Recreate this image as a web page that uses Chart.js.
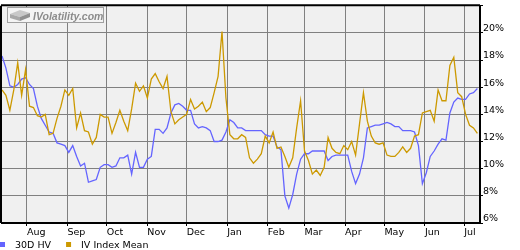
<!DOCTYPE html>
<html>
<head>
<meta charset="utf-8">
<script src="https://cdn.jsdelivr.net/npm/chart.js@4/dist/chart.umd.min.js"></script>
<style>
  html, body { margin: 0; padding: 0; background: #fff; }
  #chart { display: block; }
</style>
</head>
<body>
<canvas id="chart" width="520" height="250"></canvas>
<script>
// 시작일 기준 3일 간격 샘플 (Jul 13 ~ Jul 12)
const startDate = new Date(2010, 6, 13);
const stepDays = 3;

const monthLabels = ['Aug', 'Sep', 'Oct', 'Nov', 'Dec', 'Jan', 'Feb', 'Mar', 'Apr', 'May', 'Jun', 'Jul'];
const yTicks = [6, 8, 10, 12, 14, 16, 18, 20];
const seriesNames = ['30D HV', 'IV Index Mean'];

// 30일 역사적 변동성 (%)
const hv = [
  18.3, 17.4, 16.1, 16.0, 16.2, 16.6, 16.7, 16.2, 15.9, 14.6,
  13.7, 13.2, 12.7, 12.6, 11.9, 11.8, 11.7, 11.2, 11.7, 10.9,
  10.2, 10.4, 9.0, 9.1, 9.2, 10.1, 10.3, 10.3, 10.1, 10.2,
  10.8, 10.8, 11.0, 9.6, 11.2, 10.1, 10.1, 10.7, 10.9, 12.9,
  12.9, 12.6, 13.0, 14.1, 14.7, 14.8, 14.6, 14.3, 14.3, 13.3,
  13.0, 13.1, 13.0, 12.8, 12.0, 12.0, 12.1, 12.7, 13.6, 13.4,
  13.0, 13.0, 12.8, 12.8, 12.8, 12.8, 12.8, 12.5, 12.4, 12.4,
  11.6, 11.4, 8.0, 7.1, 8.1, 9.6, 10.7, 11.1, 11.1, 11.3,
  11.3, 11.3, 11.3, 10.6, 10.9, 11.0, 11.0, 11.0, 11.0, 9.8,
  8.9, 9.6, 10.8, 13.0, 13.1, 13.2, 13.2, 13.3, 13.4, 13.3,
  13.1, 13.1, 12.8, 12.8, 12.8, 12.7, 11.7, 8.9, 9.7, 10.9,
  11.3, 11.8, 12.2, 12.1, 14.1, 14.9, 15.2, 15.1, 15.1, 15.5,
  15.6, 15.9
];

// IV 인덱스 평균 (%)
const iv = [
  15.8, 15.4, 14.3, 15.8, 17.8, 15.4, 17.3, 14.6, 14.5, 13.9,
  13.8, 14.0, 12.5, 12.6, 13.7, 14.6, 15.8, 15.4, 15.9, 13.0,
  14.1, 12.8, 12.7, 11.8, 12.3, 14.0, 13.8, 13.8, 12.6, 13.4,
  14.3, 13.5, 12.8, 14.4, 16.3, 15.7, 16.1, 15.2, 16.6, 17.0,
  16.4, 15.9, 16.8, 14.2, 13.3, 13.6, 13.8, 14.0, 15.1, 14.4,
  14.6, 14.9, 14.2, 14.5, 15.6, 16.8, 20.1, 15.2, 12.5, 12.2,
  12.2, 12.5, 12.3, 10.8, 10.4, 10.7, 11.1, 12.4, 11.9, 12.7,
  11.5, 11.6, 10.9, 10.1, 10.8, 13.0, 15.0, 11.3, 10.6, 9.6,
  9.9, 9.5, 10.1, 12.3, 11.5, 11.2, 11.1, 11.7, 11.4, 12.0,
  11.0, 13.3, 15.6, 13.5, 12.4, 11.9, 11.8, 11.9, 11.0, 10.9,
  10.9, 11.2, 11.6, 11.2, 11.5, 12.4, 12.5, 14.1, 14.2, 14.3,
  13.5, 15.8, 15.0, 15.0, 17.6, 18.2, 15.6, 15.3, 14.0, 13.2,
  13.0, 12.6
];

const DAY = 86400000;
const totalDays = 365;
const monthStarts = monthLabels.map((m, k) => {
  const d = new Date(startDate.getFullYear(), startDate.getMonth() + 1 + k, 1);
  return Math.round((d - startDate) / DAY);
});

const toPoints = arr => arr.map((v, i) => ({ x: i * stepDays, y: v }));

// 배경, 테두리, 워터마크, 범례
const framePlugin = {
  id: 'frame',
  beforeDraw(chart) {
    const { ctx, chartArea: a } = chart;
    ctx.save();
    ctx.fillStyle = '#f0f0f0';
    ctx.fillRect(a.left, a.top, a.right - a.left, a.bottom - a.top);
    ctx.restore();
  },
  beforeDatasetsDraw(chart) {
    const { ctx } = chart;
    ctx.save();
    // watermark box
    ctx.fillStyle = '#f4f4f4';
    ctx.fillRect(7, 7, 97, 16);
    ctx.strokeStyle = '#a0a0a0';
    ctx.lineWidth = 1;
    ctx.strokeRect(7.5, 7.5, 96, 15);
    // cube logo
    ctx.fillStyle = '#c8c8c8';
    ctx.beginPath();
    ctx.moveTo(10, 14); ctx.lineTo(20, 10); ctx.lineTo(30, 13); ctx.lineTo(20, 17); ctx.closePath();
    ctx.fill();
    ctx.fillStyle = '#a8a8a8';
    ctx.beginPath();
    ctx.moveTo(10, 14); ctx.lineTo(20, 17); ctx.lineTo(20, 21); ctx.lineTo(10, 18); ctx.closePath();
    ctx.fill();
    ctx.fillStyle = '#909090';
    ctx.beginPath();
    ctx.moveTo(20, 17); ctx.lineTo(30, 13); ctx.lineTo(30, 17); ctx.lineTo(20, 21); ctx.closePath();
    ctx.fill();
    ctx.fillStyle = '#8c8c8c';
    ctx.font = 'italic bold 10.5px "Liberation Sans"';
    ctx.textBaseline = 'alphabetic';
    ctx.fillText('IVolatility.com', 33, 19.5);
    ctx.restore();
  },
  afterDraw(chart) {
    const { ctx, chartArea: a } = chart;
    ctx.save();
    ctx.strokeStyle = '#000';
    ctx.lineWidth = 2;
    ctx.beginPath();
    ctx.moveTo(a.left - 1, a.bottom);
    ctx.lineTo(a.left - 1, a.top);
    ctx.moveTo(a.left - 1, a.top - 0.5);
    ctx.lineTo(a.right, a.top - 0.5);
    ctx.stroke();
    // legend
    ctx.font = '9.5px "DejaVu Sans"';
    ctx.textBaseline = 'alphabetic';
    let x = 0;
    chart.data.datasets.forEach(ds => {
      ctx.fillStyle = ds.borderColor;
      ctx.fillRect(x, 242, 5, 5);
      ctx.fillStyle = '#000';
      ctx.fillText(ds.label, x + 15, 248);
      x += 15 + ctx.measureText(ds.label).width + 15;
    });
    ctx.restore();
  }
};

new Chart(document.getElementById('chart'), {
  type: 'line',
  data: {
    datasets: [
      { label: seriesNames[0], data: toPoints(hv), borderColor: '#6464ff', borderWidth: 1.3, pointRadius: 0, tension: 0, order: 1 },
      { label: seriesNames[1], data: toPoints(iv), borderColor: '#cc9900', borderWidth: 1.3, pointRadius: 0, tension: 0, order: 0 }
    ]
  },
  options: {
    responsive: false,
    animation: false,
    devicePixelRatio: 1,
    layout: { padding: { left: 2, top: 1, right: 0, bottom: 0 } },
    plugins: { legend: { display: false }, tooltip: { enabled: false } },
    font: { family: 'DejaVu Sans', size: 9.5 },
    scales: {
      x: {
        type: 'linear',
        min: 0,
        max: totalDays,
        afterBuildTicks: s => { s.ticks = monthStarts.map(v => ({ value: v })); },
        afterFit: s => { s.height = 27; },
        ticks: {
          autoSkip: false,
          maxRotation: 0,
          align: 'start',
          padding: 1,
          color: '#000',
          font: { family: 'DejaVu Sans', size: 9.5 },
          callback: (v, i) => monthLabels[i]
        },
        grid: { color: '#808080', borderDash: [1, 3], tickLength: 3, tickColor: '#000', tickBorderDash: [] },
        border: { display: true, color: '#000', width: 2 }
      },
      y: {
        position: 'right',
        min: 6,
        max: 22,
        afterBuildTicks: s => { s.ticks = yTicks.concat([22]).map(v => ({ value: v })); },
        afterFit: s => { s.width = 40; },
        ticks: {
          padding: 0,
          labelOffset: -4,
          color: '#000',
          font: { family: 'DejaVu Sans', size: 9.5 },
          callback: v => (yTicks.includes(v) ? v + '%' : '')
        },
        grid: { color: '#808080', borderDash: [1, 3], tickLength: 3, tickColor: '#000', tickBorderDash: [] },
        border: { display: true, color: '#000', width: 2 }
      }
    }
  },
  plugins: [framePlugin]
});
</script>
</body>
</html>
